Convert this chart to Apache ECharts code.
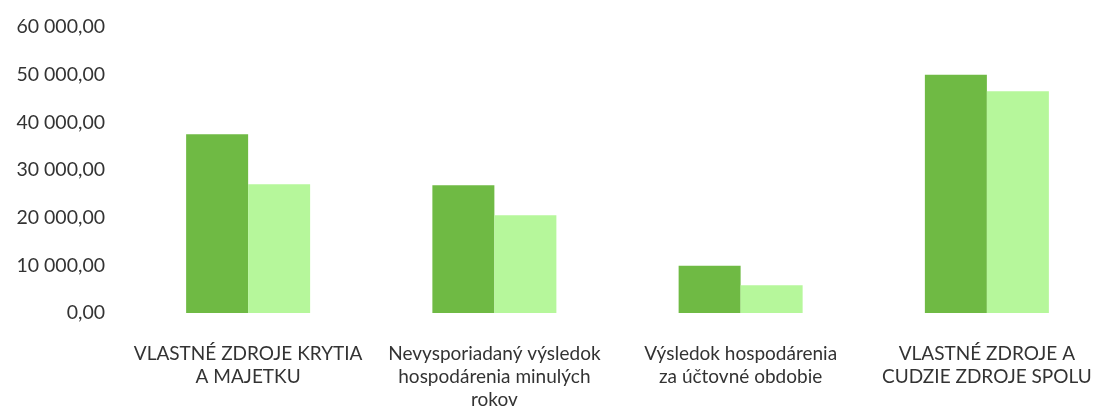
<!DOCTYPE html>
<html><head><meta charset="utf-8">
<script src="https://cdn.jsdelivr.net/npm/echarts@6/dist/echarts.min.js"></script>
<style>html,body{margin:0;padding:0;background:#fff}#c{width:1095px;height:408px}</style>
</head><body><div id="c"></div>
<script>
const categories = [
  "VLASTNÉ ZDROJE KRYTIA\nA MAJETKU",
  "Nevysporiadaný výsledok\nhospodárenia minulých\nrokov",
  "Výsledok hospodárenia\nza účtovné obdobie",
  "VLASTNÉ ZDROJE A\nCUDZIE ZDROJE SPOLU"
];
const seriesA = [37500, 26800, 9900, 50000];
const seriesB = [27000, 20500, 5800, 46500];
const yTicks = { min: 0, max: 60000, interval: 10000 };

function fmt(v){
  const s = Math.round(v).toString().replace(/\B(?=(\d{3})+(?!\d))/g, ' ');
  return s + ',00';
}
const chart = echarts.init(document.getElementById('c'), null, {renderer:'canvas'});
chart.setOption({
  animation:false,
  textStyle:{fontFamily:'Lato'},
  grid:{left:125, width:985, top:27, bottom:95, containLabel:false, outerBoundsMode:'none'},
  xAxis:{type:'category', data:categories,
    axisLine:{show:false}, axisTick:{show:false},
    axisLabel:{color:'#333', fontSize:19, lineHeight:23, margin:29, interval:0, fontFamily:'Lato'}},
  yAxis:{type:'value', min:yTicks.min, max:yTicks.max, interval:yTicks.interval,
    splitLine:{show:false}, axisLine:{show:false}, axisTick:{show:false},
    axisLabel:{color:'#333', fontSize:19.5, margin:20, formatter:fmt, fontFamily:'Lato'}},
  series:[
    {type:'bar', data:seriesA, barWidth:62, barGap:'0%', itemStyle:{color:'#6fba44'}},
    {type:'bar', data:seriesB, barWidth:62, barGap:'0%', itemStyle:{color:'#b6f79b'}}
  ]
});
</script></body></html>
